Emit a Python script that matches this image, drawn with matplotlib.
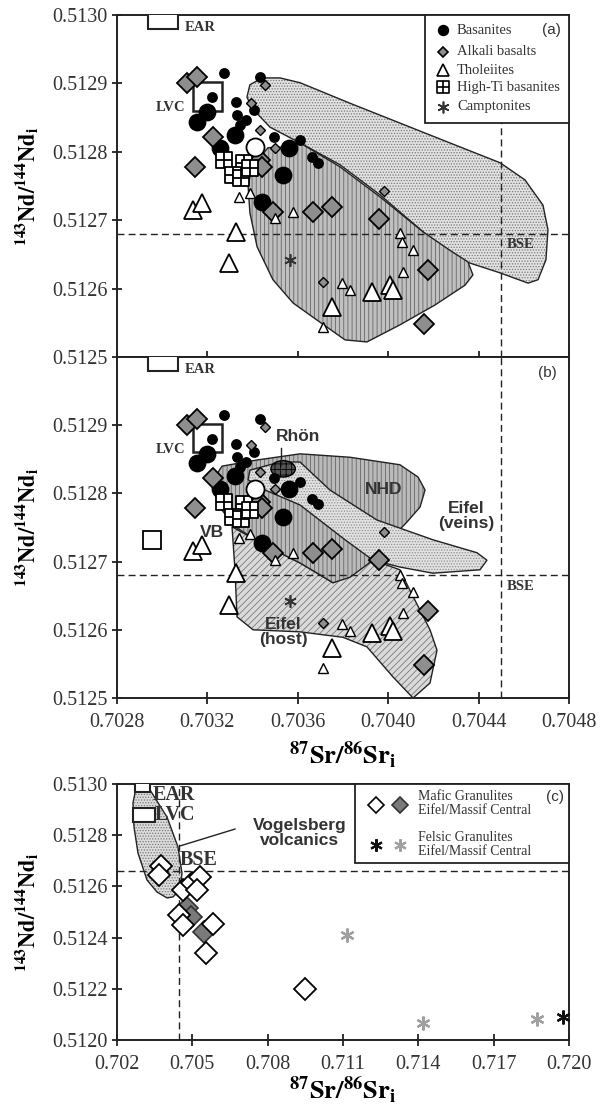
import numpy as np
import matplotlib
matplotlib.use("Agg")
import matplotlib.pyplot as plt
from matplotlib.patches import Polygon, Rectangle, Ellipse
from matplotlib.path import Path

plt.rcParams['font.family'] = ['Liberation Serif', 'DejaVu Serif']
plt.rcParams['mathtext.fontset'] = 'stix'
plt.rcParams['hatch.linewidth'] = 0.6

# ---------------- Sample data, panels (a) and (b) ----------------
bas_big_x = [0.703154, 0.703198, 0.703256, 0.703322, 0.703561, 0.703535, 0.703442]
bas_big_y = [0.512844, 0.512858, 0.512806, 0.512825, 0.512806, 0.512766, 0.512727]
bas_small_x = [0.703273, 0.703220, 0.703433, 0.703327, 0.703331, 0.703371, 0.703406,
               0.703344, 0.703495, 0.703610, 0.703663, 0.703689]
bas_small_y = [0.512915, 0.512880, 0.512909, 0.512873, 0.512854, 0.512846, 0.512861,
               0.512839, 0.512822, 0.512817, 0.512792, 0.512784]
open_circ_x = [0.703411]
open_circ_y = [0.512807]

alk_big_x = [0.703110, 0.703154, 0.703225, 0.703145, 0.703433, 0.703442, 0.703490,
             0.703667, 0.703751, 0.703959, 0.704176, 0.704158]
alk_big_y = [0.512901, 0.512909, 0.512822, 0.512778, 0.512788, 0.512778, 0.512712,
             0.512712, 0.512719, 0.512702, 0.512627, 0.512548]
alk_small_x = [0.703455, 0.703393, 0.703433, 0.703499, 0.703981, 0.703712]
alk_small_y = [0.512898, 0.512871, 0.512832, 0.512806, 0.512743, 0.512610]

thol_big_x = [0.703136, 0.703176, 0.703327, 0.703296, 0.703751, 0.703928, 0.704008, 0.704021]
thol_big_y = [0.512715, 0.512725, 0.512683, 0.512637, 0.512573, 0.512595, 0.512605, 0.512598]
thol_small_x = [0.703340, 0.703389, 0.703499, 0.703579, 0.704052, 0.704061, 0.704110,
                0.704065, 0.703796, 0.703831, 0.703712]
thol_small_y = [0.512734, 0.512740, 0.512703, 0.512712, 0.512681, 0.512668, 0.512656,
                0.512624, 0.512608, 0.512598, 0.512544]

hiti_x = [0.703273, 0.703362, 0.703313, 0.703349, 0.703389]
hiti_y = [0.512788, 0.512784, 0.512766, 0.512762, 0.512776]

campt_x = [0.703566]
campt_y = [0.512642]

vb_x = [0.702955]
vb_y = [0.512732]

bse_sr = 0.70450
bse_nd = 0.51268

# ---------------- Granulite data, panel (c) ----------------
mafic_open_x = [0.703752, 0.703672, 0.704628, 0.704987, 0.705305, 0.705186, 0.704469,
                0.704628, 0.705823, 0.705544, 0.709486]
mafic_open_y = [0.512680, 0.512645, 0.512586, 0.512613, 0.512637, 0.512586, 0.512488,
                0.512449, 0.512453, 0.512340, 0.512199]
mafic_grey_x = [0.704787, 0.704947, 0.705464]
mafic_grey_y = [0.512516, 0.512480, 0.512422]
felsic_black_x = [0.719760]
felsic_black_y = [0.512090]
felsic_grey_x = [0.711159, 0.714185, 0.718724]
felsic_grey_y = [0.512410, 0.512066, 0.512082]

bse_sr_c = 0.70447
bse_nd_c = 0.51266

# ---------------- Field outlines ----------------
stip_x = [0.703375, 0.703388, 0.703442, 0.703521, 0.703610, 0.703831, 0.704052, 0.704273,
          0.704495, 0.704605, 0.704685, 0.704707, 0.704698, 0.704663, 0.704619, 0.704495,
          0.704318, 0.704154, 0.703964, 0.703787, 0.703610, 0.703477, 0.703397]
stip_y = [0.512880, 0.512898, 0.512908, 0.512908, 0.512901, 0.512871, 0.512842, 0.512813,
          0.512784, 0.512759, 0.512722, 0.512686, 0.512642, 0.512613, 0.512608, 0.512623,
          0.512642, 0.512683, 0.512737, 0.512781, 0.512813, 0.512836, 0.512864]

vfa_x = [0.703424, 0.703468, 0.703543, 0.703610, 0.703787, 0.703964, 0.704154, 0.704273,
         0.704353, 0.704375, 0.704340, 0.704207, 0.704052, 0.703906, 0.703809, 0.703685,
         0.703579, 0.703490, 0.703420, 0.703388, 0.703380, 0.703397]
vfa_y = [0.512788, 0.512806, 0.512807, 0.512813, 0.512778, 0.512734, 0.512683, 0.512656,
         0.512639, 0.512620, 0.512605, 0.512576, 0.512547, 0.512522, 0.512525, 0.512554,
         0.512579, 0.512613, 0.512661, 0.512711, 0.512751, 0.512776]

nhd_x = [0.703225, 0.703265, 0.703420, 0.703610, 0.703831, 0.704052, 0.704132, 0.704163,
         0.704141, 0.704083, 0.704008, 0.703933, 0.703831, 0.703756, 0.703676, 0.703610,
         0.703455, 0.703322, 0.703247]
nhd_y = [0.512820, 0.512840, 0.512849, 0.512858, 0.512853, 0.512842, 0.512824, 0.512805,
         0.512780, 0.512758, 0.512732, 0.512702, 0.512677, 0.512669, 0.512685, 0.512698,
         0.512724, 0.512751, 0.512783]

host_x = [0.703309, 0.703455, 0.703610, 0.703756, 0.703933, 0.704052, 0.704096, 0.704185,
          0.704216, 0.704185, 0.704110, 0.704021, 0.703906, 0.703800, 0.703610, 0.703402,
          0.703331, 0.703322]
host_y = [0.512751, 0.512724, 0.512698, 0.512669, 0.512702, 0.512688, 0.512658, 0.512600,
          0.512570, 0.512522, 0.512500, 0.512531, 0.512575, 0.512589, 0.512597, 0.512600,
          0.512619, 0.512688]

veins_x = [0.703388, 0.703521, 0.703610, 0.703742, 0.703950, 0.704198, 0.704393, 0.704437,
           0.704406, 0.704198, 0.704052, 0.703933, 0.703809, 0.703610, 0.703455, 0.703380]
veins_y = [0.512834, 0.512846, 0.512846, 0.512805, 0.512761, 0.512732, 0.512713, 0.512702,
           0.512688, 0.512683, 0.512692, 0.512702, 0.512732, 0.512783, 0.512805, 0.512820]

vog_x = [0.702796, 0.703314, 0.703991, 0.704429, 0.704588, 0.704509, 0.704230, 0.703991,
         0.703593, 0.703195, 0.702836, 0.702677, 0.702637, 0.702717]
vog_y = [0.512977, 0.512977, 0.512871, 0.512754, 0.512652, 0.512586, 0.512559, 0.512555,
         0.512578, 0.512625, 0.512730, 0.512832, 0.512926, 0.512965]

# ---------------- Styling helpers ----------------
INK = '#222222'
TICK_FS = 14.5
SANS = ['Liberation Sans', 'DejaVu Sans']

sq_cross = Path([(-1, -1), (1, -1), (1, 1), (-1, 1), (-1, -1),
                 (0, -1), (0, 1), (-1, 0), (1, 0)],
                [Path.MOVETO, Path.LINETO, Path.LINETO, Path.LINETO, Path.CLOSEPOLY,
                 Path.MOVETO, Path.LINETO, Path.MOVETO, Path.LINETO])
asterisk = (6, 2, 0)

YLABEL = r'$\mathbf{^{143}Nd/^{144}Nd_{i}}$'
XLABEL = r'$\mathbf{^{87}Sr/^{86}Sr_{i}}$'


def field(ax, xs, ys, face, hatch, hcolor, z):
    pts = np.column_stack([xs, ys])
    ax.add_patch(Polygon(pts, closed=True, facecolor=face, edgecolor=hcolor,
                         hatch=hatch, lw=0, zorder=z))
    ax.add_patch(Polygon(pts, closed=True, fill=False, edgecolor=INK, lw=1.0,
                         joinstyle='round', zorder=z + 0.01))


def style_axes(ax):
    for s in ax.spines.values():
        s.set_linewidth(1.4)
        s.set_color(INK)
    ax.tick_params(axis='x', direction='inout', length=9, width=1.3, color=INK,
                   labelsize=TICK_FS, labelcolor='#333333', pad=6)
    ax.tick_params(axis='y', direction='inout', length=7, width=1.3, color=INK,
                   labelsize=TICK_FS, labelcolor='#333333', pad=3)
    ax.tick_params(top=False, right=False)


def samples(ax):
    kw = dict(ls='none', mec='k', mew=1.3)
    ax.plot(bas_big_x, bas_big_y, 'o', ms=11.5, mfc='k', zorder=4, **kw)
    ax.plot(bas_small_x, bas_small_y, 'o', ms=6.5, mfc='k', zorder=4, **kw)
    ax.plot(alk_big_x, alk_big_y, 'D', ms=10, mfc='#8e8e8e', zorder=5, **kw)
    ax.plot(alk_small_x, alk_small_y, 'D', ms=5, mfc='#8e8e8e', mec='k', mew=1.0,
            ls='none', zorder=5)
    ax.plot(thol_big_x, thol_big_y, '^', ms=13, mfc='w', zorder=5, **kw)
    ax.plot(thol_small_x, thol_small_y, '^', ms=7, mfc='w', mec='k', mew=1.0,
            ls='none', zorder=5)
    ax.plot(hiti_x, hiti_y, marker=sq_cross, ms=11, mfc='w', zorder=6, **kw)
    ax.plot(open_circ_x, open_circ_y, 'o', ms=13, mfc='w', zorder=6, **kw)
    ax.plot(campt_x, campt_y, marker=asterisk, ms=9, mec='#333333', mew=1.2,
            ls='none', zorder=6)


def references(ax):
    # BSE reference lines
    ax.axhline(bse_nd, color=INK, lw=1.0, ls=(0, (5, 3)), zorder=2)
    ax.axvline(bse_sr, color=INK, lw=1.0, ls=(0, (5, 3)), zorder=2)
    ax.text(0.704526, 0.512664, 'BSE', fontsize=10.5, fontweight='bold',
            color='#333333', ha='left', va='center', zorder=7)
    # East African Rift and LVC boxes
    ax.add_patch(Rectangle((0.702937, 0.51298), 0.000133, 0.00003, fc='w', ec=INK,
                           lw=1.5, zorder=3, clip_on=True))
    ax.text(0.703101, 0.512981, 'EAR', fontsize=10.5, fontweight='bold',
            color='#333333', ha='left', va='center', zorder=7)
    ax.add_patch(Rectangle((0.703136, 0.51286), 0.000129, 0.000042, fill=False,
                           ec=INK, lw=1.8, zorder=3))
    ax.text(0.703101, 0.512865, 'LVC', fontsize=10.5, fontweight='bold',
            color='#333333', ha='right', va='center', zorder=7)


fig = plt.figure(figsize=(6, 11.16), dpi=100)
axa = fig.add_axes([0.195, 0.68011, 0.7533, 0.30645])
axb = fig.add_axes([0.195, 0.37455, 0.7533, 0.30556])
axc = fig.add_axes([0.195, 0.06810, 0.7533, 0.22939])

sr_ticks = [0.7028, 0.7032, 0.7036, 0.7040, 0.7044, 0.7048]

# ---------------- Panel (a) ----------------
axa.set_xlim(0.7028, 0.7048)
axa.set_ylim(0.5125, 0.5130)
field(axa, stip_x, stip_y, '#e2e2e2', '......', '#777777', 1.0)
field(axa, vfa_x, vfa_y, '#c0c0c0', '||||', '#666666', 1.1)
references(axa)
samples(axa)
axa.set_xticks(sr_ticks)
axa.set_xticklabels([])
axa.set_yticks([0.5125, 0.5126, 0.5127, 0.5128, 0.5129, 0.5130])
axa.set_yticklabels(['0.5125', '0.5126', '0.5127', '0.5128', '0.5129', '0.5130'])
style_axes(axa)
axa.set_ylabel(YLABEL, fontsize=16)
axa.yaxis.set_label_coords(-0.168, 0.5)

# legend box for panel (a)
axa.add_patch(Rectangle((0.681, 0.684), 0.319, 0.316, transform=axa.transAxes,
                        fc='w', ec=INK, lw=1.3, zorder=8, clip_on=False))
leg_rows = [0.956, 0.892, 0.839, 0.789, 0.731]
leg_items = [
    dict(marker='o', ms=7, mfc='k', mec='k'),
    dict(marker='D', ms=5.5, mfc='#8e8e8e', mec='k'),
    dict(marker='^', ms=8, mfc='w', mec='k'),
    dict(marker=sq_cross, ms=8.5, mfc='w', mec='k'),
    dict(marker=asterisk, ms=8.5, mec='#333333'),
]
leg_names = ['Basanites', 'Alkali basalts', 'Tholeiites', 'High-Ti basanites', 'Camptonites']
for yy, st, name in zip(leg_rows, leg_items, leg_names):
    axa.plot([0.721], [yy], transform=axa.transAxes, ls='none', mew=1.2,
             clip_on=False, zorder=9, **st)
    axa.text(0.752, yy, name, transform=axa.transAxes, fontsize=10.5, color='#333333',
             ha='left', va='center', zorder=9)
axa.text(0.962, 0.956, '(a)', transform=axa.transAxes, fontsize=11, family=SANS,
         color='#333333', ha='center', va='center', zorder=9)

# ---------------- Panel (b) ----------------
axb.set_xlim(0.7028, 0.7048)
axb.set_ylim(0.5125, 0.5130)
field(axb, host_x, host_y, '#dadada', '/////', '#7a7a7a', 1.0)
field(axb, nhd_x, nhd_y, '#bababa', '||||', '#666666', 1.1)
field(axb, veins_x, veins_y, '#e2e2e2', '......', '#8f8f8f', 1.2)
axb.add_patch(Ellipse((0.703535, 0.512836), 0.000108, 0.000024, fc='#555555',
                      ec='k', hatch='+++', lw=1.0, zorder=1.3))
axb.plot([0.703527, 0.703527], [0.512866, 0.512842], color=INK, lw=1.0, zorder=7)
references(axb)
samples(axb)
axb.plot(vb_x, vb_y, 's', ms=13, mfc='w', mec='k', mew=1.3, ls='none', zorder=5)

lab = dict(family=SANS, fontweight='bold', fontsize=12.5, color='#333333', zorder=7)
axb.text(0.703601, 0.512883, 'Rhön', ha='center', va='center', **lab)
axb.text(0.703220, 0.512743, 'VB', ha='center', va='center', **lab)
axb.text(0.703981, 0.512805, 'NHD', ha='center', va='center', **lab)
axb.text(0.704344, 0.512767, 'Eifel\n(veins)', ha='center', va='center',
         linespacing=1.0, **lab)
axb.text(0.703535, 0.512597, 'Eifel\n(host)', ha='center', va='center',
         linespacing=1.0, **lab)
axb.text(0.953, 0.953, '(b)', transform=axb.transAxes, fontsize=11, family=SANS,
         color='#333333', ha='center', va='center')

axb.set_xticks(sr_ticks)
axb.set_xticklabels(['0.7028', '0.7032', '0.7036', '0.7040', '0.7044', '0.7048'])
axb.set_yticks([0.5125, 0.5126, 0.5127, 0.5128, 0.5129])
axb.set_yticklabels(['0.5125', '0.5126', '0.5127', '0.5128', '0.5129'])
style_axes(axb)
axb.set_ylabel(YLABEL, fontsize=16)
axb.yaxis.set_label_coords(-0.168, 0.5)
axb.set_xlabel(XLABEL, fontsize=19)
axb.xaxis.set_label_coords(0.5, -0.12)

# ---------------- Panel (c) ----------------
axc.set_xlim(0.702, 0.720)
axc.set_ylim(0.5120, 0.5130)
field(axc, vog_x, vog_y, '#dcdcdc', '......', '#777777', 1.0)
axc.axhline(bse_nd_c, color=INK, lw=1.0, ls=(0, (5, 3)), zorder=2)
axc.axvline(bse_sr_c, color=INK, lw=1.0, ls=(0, (5, 3)), zorder=2)
axc.add_patch(Rectangle((0.702717, 0.512969), 0.000597, 0.00004, fc='w', ec=INK,
                        lw=1.5, zorder=3))
axc.add_patch(Rectangle((0.702637, 0.512852), 0.000876, 0.000054, fc='w', ec=INK,
                        lw=1.5, zorder=3))
big = dict(fontsize=14.5, fontweight='bold', color='#333333', zorder=7)
axc.text(0.703434, 0.512957, 'EAR', ha='left', va='center', **big)
axc.text(0.703513, 0.512879, 'LVC', ha='left', va='center', **big)
axc.text(0.704509, 0.512703, 'BSE', ha='left', va='center', **big)
axc.text(0.709287, 0.512809, 'Vogelsberg\nvolcanics', ha='center', va='center',
         linespacing=1.0, family=SANS, fontweight='bold', fontsize=12.5,
         color='#333333', zorder=7)
axc.plot([0.704509, 0.706699], [0.512758, 0.512824], color=INK, lw=1.0, zorder=7)

axc.plot(mafic_open_x, mafic_open_y, 'D', ms=11.5, mfc='w', mec='k', mew=1.3,
         ls='none', zorder=5)
axc.plot(mafic_grey_x, mafic_grey_y, 'D', ms=11.5, mfc='#7a7a7a', mec='#333333',
         mew=1.2, ls='none', zorder=4)
axc.plot(felsic_grey_x, felsic_grey_y, marker=asterisk, ms=10, mec='#a0a0a0',
         mew=1.6, ls='none', zorder=5)
axc.plot(felsic_black_x, felsic_black_y, marker=asterisk, ms=10, mec='#111111',
         mew=1.6, ls='none', zorder=5)

axc.add_patch(Rectangle((0.5265, 0.6914), 0.4735, 0.3086, transform=axc.transAxes,
                        fc='w', ec=INK, lw=1.3, zorder=8, clip_on=False))
axc.plot([0.573], [0.918], 'D', ms=8, mfc='w', mec='k', mew=1.2,
         transform=axc.transAxes, clip_on=False, zorder=9)
axc.plot([0.626], [0.918], 'D', ms=8, mfc='#7a7a7a', mec='#333333', mew=1.2,
         transform=axc.transAxes, clip_on=False, zorder=9)
axc.plot([0.573], [0.762], marker=asterisk, ms=9, mec='#111111', mew=1.5,
         transform=axc.transAxes, clip_on=False, zorder=9)
axc.plot([0.626], [0.762], marker=asterisk, ms=9, mec='#a0a0a0', mew=1.5,
         transform=axc.transAxes, clip_on=False, zorder=9)
axc.text(0.666, 0.924, 'Mafic Granulites\nEifel/Massif Central', fontsize=10,
         color='#333333', ha='left', va='center', linespacing=1.05,
         transform=axc.transAxes, zorder=9)
axc.text(0.666, 0.764, 'Felsic Granulites\nEifel/Massif Central', fontsize=10,
         color='#333333', ha='left', va='center', linespacing=1.05,
         transform=axc.transAxes, zorder=9)
axc.text(0.969, 0.949, '(c)', transform=axc.transAxes, fontsize=11, family=SANS,
         color='#333333', ha='center', va='center', zorder=9)

axc.set_xticks([0.702, 0.705, 0.708, 0.711, 0.714, 0.717, 0.720])
axc.set_xticklabels(['0.702', '0.705', '0.708', '0.711', '0.714', '0.717', '0.720'])
axc.set_yticks([0.5120, 0.5122, 0.5124, 0.5126, 0.5128, 0.5130])
axc.set_yticklabels(['0.5120', '0.5122', '0.5124', '0.5126', '0.5128', '0.5130'])
style_axes(axc)
axc.set_ylabel(YLABEL, fontsize=16)
axc.yaxis.set_label_coords(-0.168, 0.5)
axc.set_xlabel(XLABEL, fontsize=19)
axc.xaxis.set_label_coords(0.5, -0.135)

fig.savefig('out.png', dpi=100, facecolor='white')
